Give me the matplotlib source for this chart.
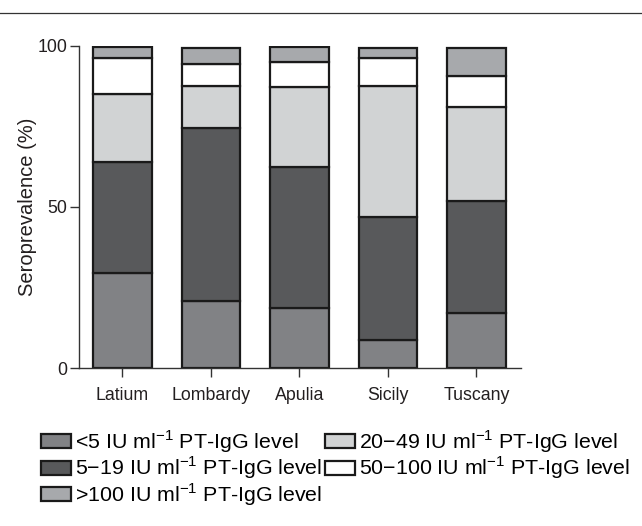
import matplotlib.pyplot as plt
from matplotlib.patches import Patch
import numpy as np

plt.rcParams['font.family'] = ['Liberation Sans', 'DejaVu Sans']
plt.rcParams['mathtext.fontset'] = 'custom'
plt.rcParams['mathtext.rm'] = 'Liberation Sans'

regions = ['Latium', 'Lombardy', 'Apulia', 'Sicily', 'Tuscany']

# share of each PT-IgG level per region (%), stacked bottom to top
lt5 = [29.5, 20.7, 18.7, 8.7, 17.1]
r5_19 = [34.3, 53.9, 43.7, 38.1, 34.6]
r20_49 = [21.3, 12.8, 24.7, 40.7, 29.3]
r50_100 = [11.2, 7.0, 7.8, 8.8, 9.5]
gt100 = [3.2, 5.0, 4.7, 3.1, 8.7]

labels = [r'<5 IU ml$^{-1}$ PT-IgG level',
          r'5−19 IU ml$^{-1}$ PT-IgG level',
          r'20−49 IU ml$^{-1}$ PT-IgG level',
          r'50−100 IU ml$^{-1}$ PT-IgG level',
          r'>100 IU ml$^{-1}$ PT-IgG level']
colors = ['#818285', '#58595b', '#d1d3d4', '#ffffff', '#a7a9ac']
series = [lt5, r5_19, r20_49, r50_100, gt100]

fig = plt.figure(figsize=(6.42, 5.26), dpi=100)
ax = fig.add_axes([0.123, 0.300, 0.688, 0.613])

x = np.arange(len(regions))
bottom = np.zeros(len(regions))
for vals, col in zip(series, colors):
    ax.bar(x, vals, width=0.66, bottom=bottom, color=col, edgecolor='#1a1a1a', linewidth=1.6)
    bottom += np.array(vals)

ax.set_xlim(-0.49, 4.5)
ax.set_ylim(0, 100)
ax.set_yticks([0, 50, 100])
ax.set_xticks(x)
ax.set_xticklabels(regions)
ax.set_ylabel('Seroprevalence (%)', fontsize=14.5, color='#231f20', labelpad=0)
ax.tick_params(axis='both', labelsize=12.8, length=6.5, width=1, colors='#333333', labelcolor='#231f20')
ax.tick_params(axis='x', pad=7)
ax.tick_params(axis='y', pad=2)
ax.spines['top'].set_visible(False)
ax.spines['right'].set_visible(False)
for s in ['left', 'bottom']:
    ax.spines[s].set_color('#333333')
    ax.spines[s].set_linewidth(1)

# thin rule across the top of the figure
fig.add_artist(plt.Line2D([0, 1], [1 - 13 / 526, 1 - 13 / 526], color='#333333', linewidth=0.9))

order = [0, 1, 4, 2, 3]
handles = [Patch(facecolor=colors[i], edgecolor='#1a1a1a', linewidth=1.6) for i in order]
fig.legend(handles, [labels[i] for i in order], ncol=2, loc='upper left',
           bbox_to_anchor=(0.064, 0.186), frameon=False, fontsize=15.4,
           handlelength=1.4, handleheight=0.64, handletextpad=0.2,
           columnspacing=0.12, labelspacing=0.0, borderaxespad=0, borderpad=0)

plt.savefig('out.png', dpi=100)
